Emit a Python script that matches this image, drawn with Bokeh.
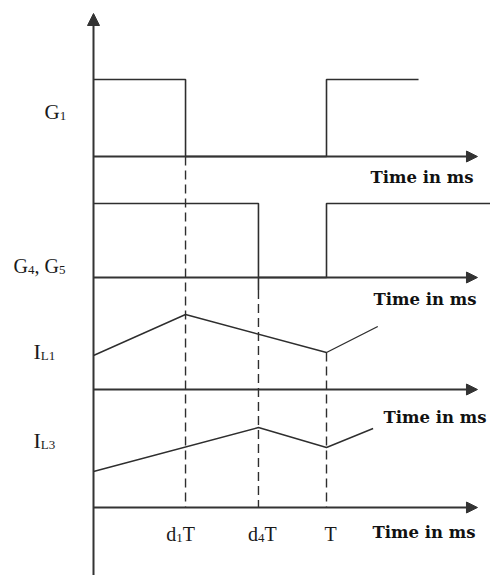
from bokeh.plotting import figure
from bokeh.models import Range1d, Arrow, NormalHead
from bokeh.core.properties import value
from bokeh.embed import file_html
from bokeh.resources import INLINE

# ---- switching timing (period normalised to T = 1) ----
T = 1.0
d1 = 0.395          # duty of G1
d4 = 0.708          # duty of G4, G5

# gate signals: 0 = off, 1 = on
g1_t = [0, d1, d1, T, T, T + d1]
g1_v = [1, 1, 0, 0, 1, 1]
g45_t = [0, d4, d4, d4, T, T, T + d4]
g45_v = [1, 1, -0.17, 0, 0, 1, 1]

# inductor currents (arbitrary units)
il1_t = [0, d1, T, 1.22]
il1_v = [3.4, 7.5, 3.7, 6.3]
il3_t = [0, d4, T, 1.20]
il3_v = [3.6, 8.0, 6.0, 7.9]

# ---- layout of the stacked traces (vertical screen units, top-down) ----
W, H = 490, 575
AXIS_X = 93          # position of the common vertical axis
PX_PER_T = 233       # horizontal scale: one period
T_END = 1.648        # where the time arrows end
Y_TOP = 13           # tip of the vertical arrow
BASE = {"G1": 156, "G45": 277, "IL1": 389, "IL3": 507}
SCALE = {"G1": 77, "G45": 74, "IL1": 10, "IL3": 10}

INK = "#2e2e2e"
AXIS_INK = "#333333"
SERIF = "Liberation Serif"
MAIN, SUB = 20, 13

p = figure(width=W, height=H,
           x_range=Range1d(-AXIS_X / PX_PER_T, (W - AXIS_X) / PX_PER_T),
           y_range=Range1d(H, 0),
           x_axis_type=None, y_axis_type=None,
           output_backend="svg", toolbar_location=None, min_border=0)
p.grid.visible = False
p.outline_line_color = None
p.background_fill_color = "white"
p.border_fill_color = "white"


def place(row, vals):
    return [BASE[row] - v * SCALE[row] for v in vals]


# vertical axis with arrow
p.add_layout(Arrow(end=NormalHead(size=12, fill_color=AXIS_INK, line_color=AXIS_INK, line_width=1),
                   x_start=0, y_start=H, x_end=0, y_end=Y_TOP,
                   line_color=AXIS_INK, line_width=2))

# time axes, one per trace
for row in ["G1", "G45", "IL1", "IL3"]:
    p.add_layout(Arrow(end=NormalHead(size=11, fill_color=AXIS_INK, line_color=AXIS_INK, line_width=1),
                       x_start=0, y_start=BASE[row], x_end=T_END, y_end=BASE[row],
                       line_color=AXIS_INK, line_width=2))

# waveforms
p.line(g1_t, place("G1", g1_v), line_color=INK, line_width=1.6)
p.line(g45_t, place("G45", g45_v), line_color=INK, line_width=1.6)
p.line(il1_t, place("IL1", il1_v), line_color=INK, line_width=1.4)
p.line(il3_t, place("IL3", il3_v), line_color=INK, line_width=1.4)

# dashed timing guides down to the bottom axis
guides = [
    (d1, BASE["G1"]),
    (d4, place("G45", [g45_v[2]])[0]),
    (T, place("IL1", [il1_v[2]])[0]),
]
for gx, gy in guides:
    p.segment(x0=[gx], y0=[gy], x1=[gx], y1=[BASE["IL3"]],
              line_color=INK, line_width=1.4, line_dash="9 5")

# ---- text ----
# advance widths (em) of the serif face, used to chain subscripts
ADV = {"G": 0.722, "I": 0.333, "L": 0.611, "d": 0.5, "T": 0.611, ",": 0.25, " ": 0.25,
       "1": 0.5, "3": 0.5, "4": 0.5, "5": 0.5}


def label(x, y, parts, dx=0.0, align="left", size=MAIN):
    widths = [sum(ADV[c] for c in s) * (SUB if sub else size) for s, sub in parts]
    start = dx - (sum(widths) / 2 if align == "center" else 0)
    for (s, sub), w in zip(parts, widths):
        p.text(x=[x], y=[y + (4 if sub else 0)], text=[s], x_offset=start,
               text_font=value(SERIF), text_font_size=f"{SUB if sub else size}px",
               text_color="#1a1a1a", text_align="left", text_baseline="alphabetic")
        start += w


label(0, BASE["G1"] - 45, [("G", False), ("1", True)], dx=-49, size=21)
label(0, BASE["G45"] - 12, [("G", False), ("4", True), (", G", False), ("5", True)], dx=-80)
label(0, BASE["IL1"] - 38, [("I", False), ("L1", True)], dx=-60, size=22)
label(0, BASE["IL3"] - 67, [("I", False), ("L3", True)], dx=-60, size=22)

tick_y = BASE["IL3"] + 26
label(d1, tick_y, [("d", False), ("1", True), ("T", False)], dx=-5, align="center")
label(d4, tick_y, [("d", False), ("4", True), ("T", False)], dx=4, align="center")
label(T, tick_y, [("T", False)], dx=4, align="center")

# "Time in ms" captions under each time axis
captions = [("G1", 21, -2), ("G45", 22, 1), ("IL1", 28, 11), ("IL3", 25, 0)]
for row, dy, dx in captions:
    p.text(x=[T_END], y=[BASE[row] + dy], text=["Time in ms"], x_offset=dx - 2,
           text_font=value("DejaVu Serif"), text_font_style="bold", text_font_size="16.5px",
           text_color="#111111", text_align="right", text_baseline="middle")

open("out.html", "w").write(file_html(p, INLINE))
